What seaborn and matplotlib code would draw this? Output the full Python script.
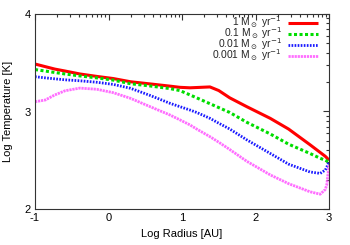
import numpy as np
import pandas as pd
import matplotlib
matplotlib.use('Agg')
import matplotlib.pyplot as plt
import seaborn as sns

# log radius grid [AU] and log temperature for each accretion rate
log_r = [-1.0, -0.86, -0.73, -0.59, -0.39, -0.16, 0.065, 0.3, 0.565, 0.837, 0.97, 1.109,
         1.2, 1.38, 1.5, 1.65, 1.88, 2.2, 2.45, 2.74, 2.88, 2.95, 2.97, 3.0]
t_1 = [3.487, 3.46, 3.435, 3.415, 3.385, 3.36, 3.338, 3.305, 3.283, 3.26, 3.248, 3.243,
       3.246, 3.252, 3.215, 3.14, 3.05, 2.93, 2.82, 2.66, 2.58, 2.54, 2.525, 2.50]
t_01 = [3.43, 3.415, 3.40, 3.385, 3.365, 3.345, 3.322, 3.285, 3.262, 3.235, 3.215, 3.17,
        3.14, 3.08, 3.04, 2.99, 2.89, 2.77, 2.665, 2.57, 2.52, 2.50, 2.492, 2.485]
t_001 = [3.357, 3.345, 3.335, 3.325, 3.315, 3.30, 3.278, 3.238, 3.165, 3.084, 3.05, 3.015,
         2.99, 2.93, 2.88, 2.82, 2.71, 2.57, 2.46, 2.38, 2.365, 2.40, 2.43, 2.485]
t_0001 = [3.10, 3.118, 3.17, 3.213, 3.24, 3.228, 3.193, 3.135, 3.05, 2.964, 2.915, 2.862,
          2.82, 2.742, 2.685, 2.61, 2.49, 2.35, 2.26, 2.177, 2.152, 2.20, 2.25, 2.45]

labels = [r'1 M$_\odot$ yr$^{-1}$', r'0.1 M$_\odot$ yr$^{-1}$',
          r'0.01 M$_\odot$ yr$^{-1}$', r'0.001 M$_\odot$ yr$^{-1}$']

sns.set_style('white')
plt.rcParams['font.family'] = ['Liberation Sans', 'DejaVu Sans']
plt.rcParams['mathtext.fontset'] = 'dejavusans'
plt.rcParams['font.size'] = 8

fig = plt.figure(figsize=(3.5, 2.45), dpi=100)
ax = fig.add_axes([35 / 350, 1 - 209 / 245, 294 / 350, 195 / 245])

styles = [
    dict(color='#ff0000', linestyle='-', linewidth=2.2),
    dict(color='#00dd00', linestyle=(0, (1, 0.8)), linewidth=2.2),
    dict(color='#1a1aff', linestyle=(0, (0.6, 0.5)), linewidth=2.0),
    dict(color='#ff55ff', linestyle=(0, (0.8, 0.3)), linewidth=2.0, alpha=0.85),
]
series = [t_1, t_01, t_001, t_0001]
for lab, vals, st in zip(labels, series, styles):
    df = pd.DataFrame({'r': log_r, 't': vals})
    sns.lineplot(data=df, x='r', y='t', ax=ax, label=lab, solid_capstyle='butt',
                 dash_capstyle='butt', sort=False, **st)

ax.set_xlim(-1, 3)
ax.set_ylim(2, 4)
ax.set_xticks([-1, 0, 1, 2, 3])
ax.set_xticklabels(['-1', '0', '1', '2', '3'])
ax.set_yticks([2, 3, 4])
ax.set_xticks([k + np.log10(m) for k in range(-1, 3) for m in range(2, 10)], minor=True)
ax.set_yticks([k + np.log10(m) for k in range(2, 4) for m in range(2, 10)], minor=True)
ax.tick_params(which='both', direction='in', top=True, right=True, width=0.8,
               color='#333333', labelcolor='black')
ax.tick_params(which='major', length=4.5, pad=3)
ax.tick_params(which='minor', length=2.2)
for sp in ax.spines.values():
    sp.set_linewidth(0.8)
    sp.set_color('#333333')

ax.set_xlabel('Log Radius [AU]', labelpad=4, color='black')
ax.set_ylabel('Log Temperature [K]', labelpad=8, color='black')

ax.legend(loc='upper right', bbox_to_anchor=(0.962, 0.997), markerfirst=False, frameon=False,
          fontsize=7.4, handlelength=2.9, handletextpad=0.6, labelspacing=-0.47,
          borderpad=0.0, borderaxespad=0.0)

fig.savefig('out.png', dpi=100)
